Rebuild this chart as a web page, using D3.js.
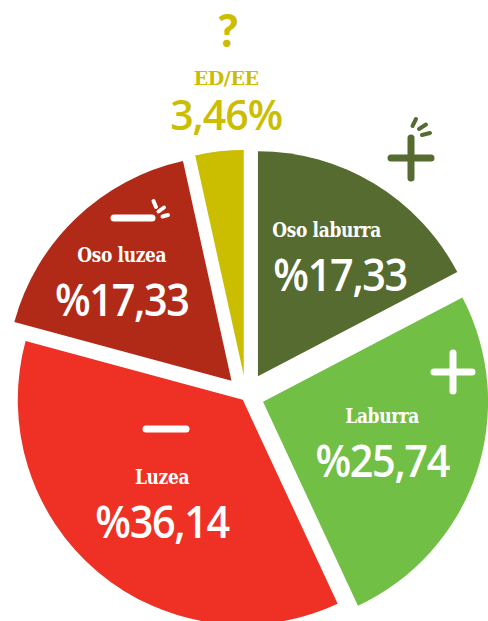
<!DOCTYPE html>
<html>
<head>
<meta charset="utf-8">
<script src="https://cdn.jsdelivr.net/npm/d3@7"></script>
<style>
  html, body { margin: 0; padding: 0; background: #fff; }
  svg { display: block; }
</style>
</head>
<body>
<div id="chart"></div>
<script>
var width  = 488;
var height = 621;

// ---------------- data ----------------
var categories  = ["Oso laburra", "Laburra", "Luzea", "Oso luzea", "ED/EE"];
var values      = [17.33, 25.74, 36.14, 17.33, 3.46];
var valueLabels = ["%17,33", "%25,74", "%36,14", "%17,33", "3,46%"];

// ---------------- style / layout ----------------
var colors      = ["#566b30", "#71bf44", "#ee3124", "#b02a17", "#cbbd00"];
var explode     = [23, 18, 5, 21, 21];      // how far each slice is pulled out
var labelRadius = [136, 130, 130, 146, 282];
var labelNudge  = [[-56, -4], [-4, -1], [3, 4], [-9, 6], [13, 9]];
var labelAnchor = ["start", "middle", "middle", "middle", "middle"];

const cx = 246, cy = 396, radius = 225;

var svg = d3.select("#chart").append("svg")
    .attr("width", width)
    .attr("height", height);

var pie = d3.pie().sort(null).value(function(d){ return d; });
var arcs = pie(values);

var arc = d3.arc().innerRadius(0).outerRadius(radius);

function bisector(d){
  var a = (d.startAngle + d.endAngle) / 2;
  return [Math.sin(a), -Math.cos(a)];
}

var slices = svg.selectAll("g.slice")
    .data(arcs)
    .enter()
  .append("g")
    .attr("class", "slice")
    .attr("transform", function(d, i){
      var u = bisector(d);
      return "translate(" + (cx + u[0]*explode[i]) + "," + (cy + u[1]*explode[i]) + ")";
    });

slices.append("path")
    .attr("d", arc)
    .attr("fill", function(d, i){ return colors[i]; });

// ---------------- labels ----------------
slices.each(function(d, i){
  var g = d3.select(this);
  var c = d3.arc().innerRadius(labelRadius[i]).outerRadius(labelRadius[i]).centroid(d);
  var x = c[0] + labelNudge[i][0];
  var y = c[1] + labelNudge[i][1];
  var outside = (i == 4);
  var col = outside ? colors[i] : "#fff";

  g.append("g")
    .attr("transform", "translate(" + x + "," + (y - 19) + ") scale(" + (outside ? 1 : 0.85) + ",1)")
  .append("text")
    .attr("text-anchor", labelAnchor[i])
    .style("font-family", "'DejaVu Serif', 'Liberation Serif', serif")
    .style("font-weight", "bold")
    .style("font-size", outside ? "19px" : "20px")
    .style("letter-spacing", "-0.4px")
    .attr("fill", col)
    .text(categories[i]);

  g.append("g")
    .attr("transform", "translate(" + (x + (labelAnchor[i] == "start" ? 1 : 0)) + "," + (y + (outside ? 26 : 35)) + ") scale(" + (outside ? 1 : 0.9) + ",1)")
  .append("text")
    .attr("text-anchor", labelAnchor[i])
    .style("font-family", "'Open Sans', sans-serif")
    .style("font-weight", 600)
    .style("font-size", outside ? "41px" : "46px")
    .style("letter-spacing", outside ? "-1px" : "-1.5px")
    .attr("fill", col)
    .text(valueLabels[i]);
});

// ---------------- plus / minus / ? marks ----------------
var marks = [
  {type: "plus",  x: 411, y: 158, size: 20, color: colors[0],
   ticks: [[1.5,-32,5,-39],[8,-29,15,-33.5],[11,-23,19,-25]]},
  {type: "plus",  x: 453, y: 372, size: 19, color: "#fff", ticks: []},
  {type: "minus", x: 166, y: 429, size: 20, color: "#fff", ticks: []},
  {type: "minus", x: 133, y: 218, size: 19, color: "#fff",
   ticks: [[20.5,-17,23,-11],[25.5,-6.5,31,-10.5],[29.5,-1.5,35,-3]]}
];

var groupMarks = svg.append("g");

marks.forEach(function(m){
  var g = groupMarks.append("g")
      .attr("transform", "translate(" + m.x + "," + m.y + ")")
      .attr("stroke", m.color)
      .attr("stroke-linecap", "round");

  g.append("line")
    .attr("x1", -m.size).attr("y1", 0)
    .attr("x2",  m.size).attr("y2", 0)
    .attr("stroke-width", 7);

  if (m.type == "plus"){
    g.append("line")
      .attr("x1", 0).attr("y1", -m.size)
      .attr("x2", 0).attr("y2",  m.size)
      .attr("stroke-width", 7);
  }

  m.ticks.forEach(function(t){
    g.append("line")
      .attr("x1", t[0]).attr("y1", t[1])
      .attr("x2", t[2]).attr("y2", t[3])
      .attr("stroke-width", 4);
  });
});

svg.append("text")
    .attr("x", 228)
    .attr("y", 47)
    .attr("text-anchor", "middle")
    .style("font-family", "Lato, 'Open Sans', sans-serif")
    .style("font-weight", 900)
    .style("font-size", "46px")
    .attr("fill", colors[4])
    .text("?");
</script>
</body>
</html>
